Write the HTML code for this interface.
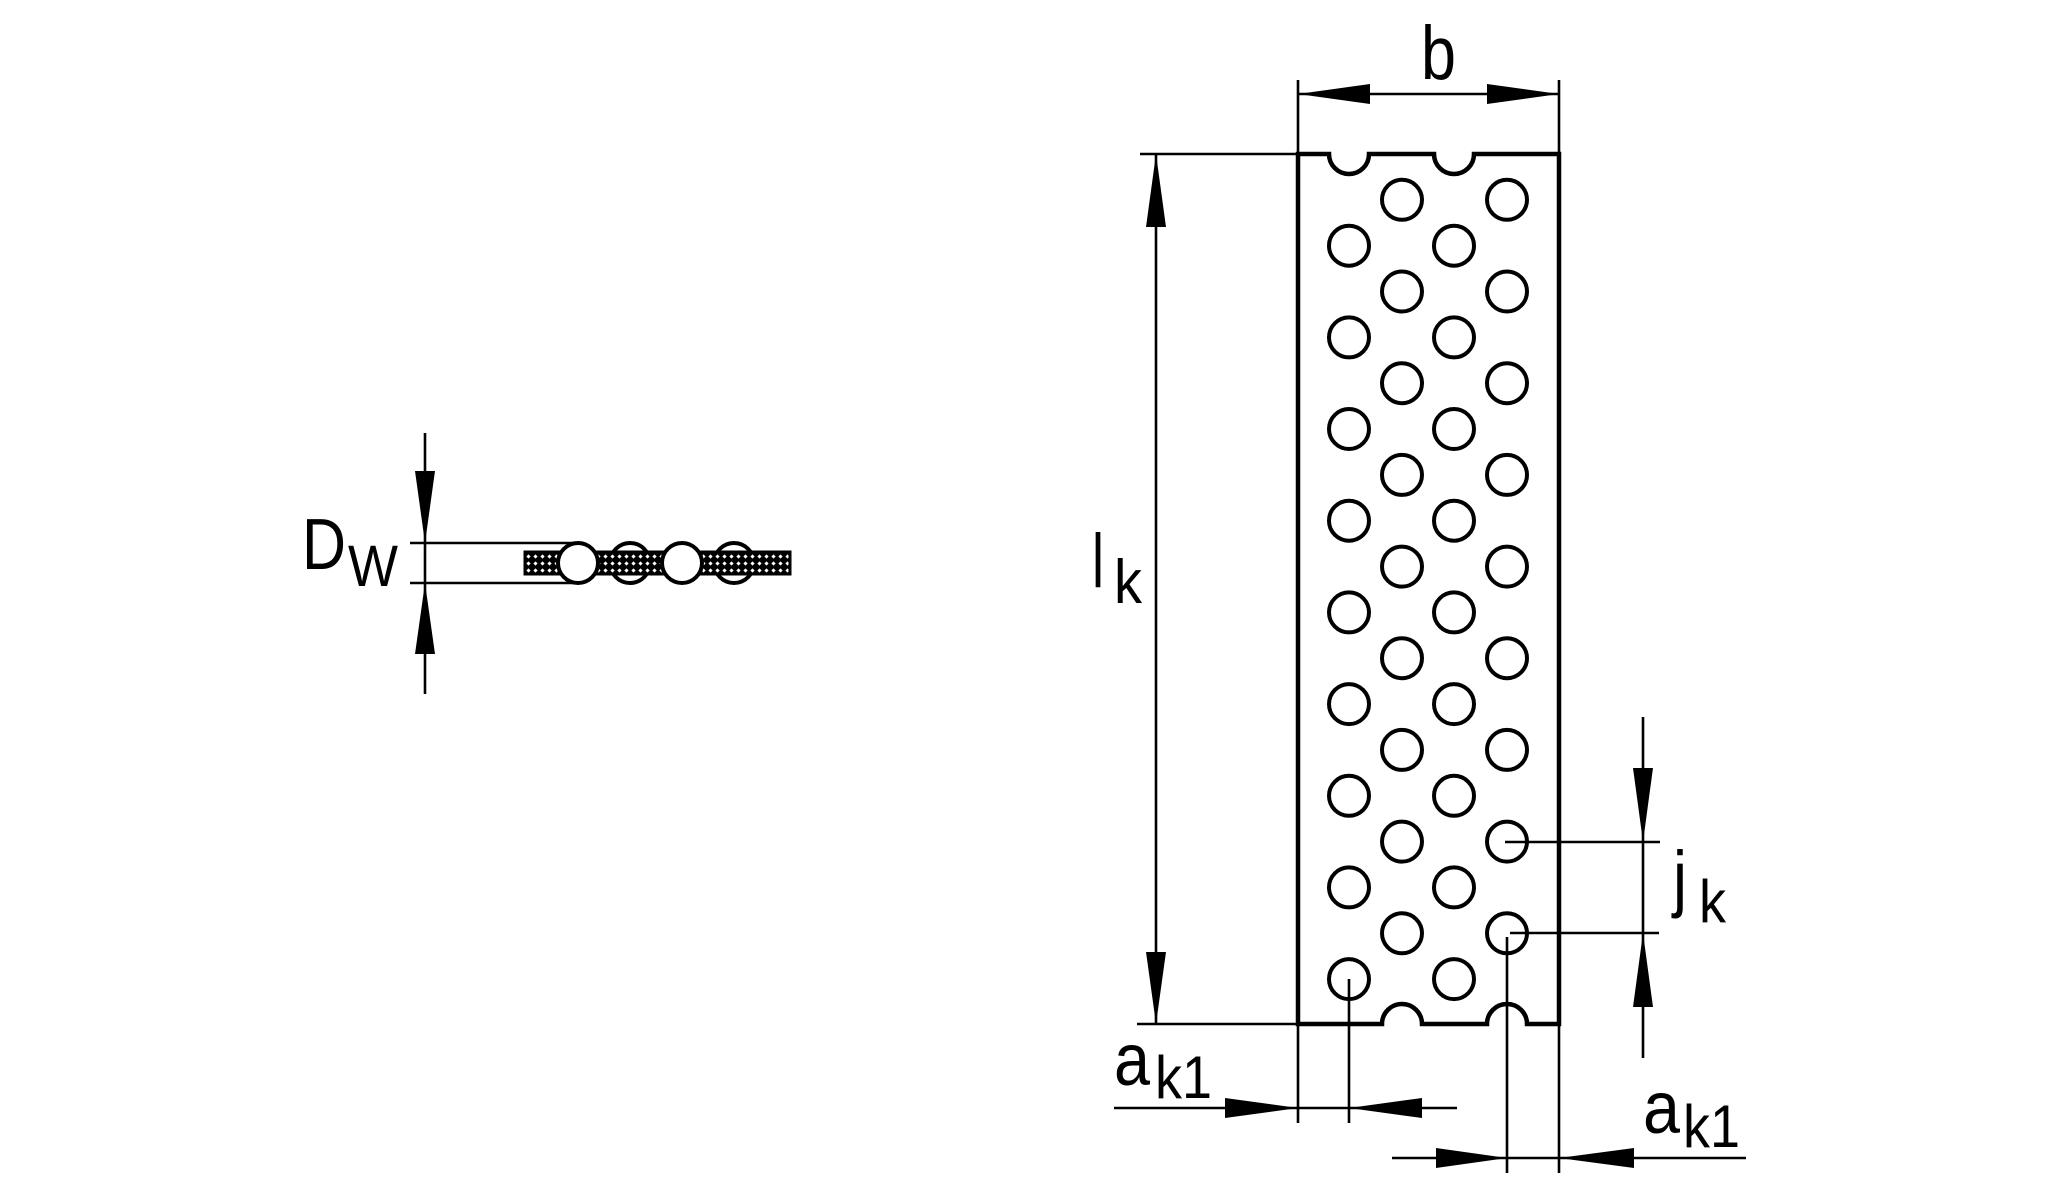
<!DOCTYPE html>
<html><head><meta charset="utf-8"><style>
html,body{margin:0;padding:0;background:#fff}
svg{display:block}
text{font-family:"Liberation Sans",sans-serif;fill:#000}
</style></head><body>
<svg width="2070" height="1200" viewBox="0 0 2070 1200" xmlns="http://www.w3.org/2000/svg">
<defs>
<pattern id="hatch" width="7" height="7" patternUnits="userSpaceOnUse">
<rect width="7" height="7" fill="#000"/>
<rect x="2" y="2" width="3" height="3" fill="#fff" transform="rotate(45 3.5 3.5)"/>
</pattern>
</defs>
<g stroke="#000" fill="none">
<circle cx="630" cy="563" r="20" stroke-width="4" fill="#fff"/>
<circle cx="734" cy="563" r="20" stroke-width="4" fill="#fff"/>
<rect x="525" y="552" width="265" height="22" fill="url(#hatch)" stroke-width="3"/>
<circle cx="578" cy="563" r="20" stroke-width="4" fill="#fff"/>
<circle cx="682" cy="563" r="20" stroke-width="4" fill="#fff"/>
<line x1="410" y1="543" x2="578" y2="543" stroke-width="2.6"/>
<line x1="410" y1="583" x2="578" y2="583" stroke-width="2.6"/>
<line x1="425" y1="433" x2="425" y2="694" stroke-width="2.6"/>
<path d="M1298,154 H1329 A20,20 0 0 0 1369,154 H1434 A20,20 0 0 0 1474,154 H1559 V1024 H1527 A20,20 0 0 0 1487,1024 H1422 A20,20 0 0 0 1382,1024 H1298 Z" stroke-width="4.5"/>
<g stroke-width="4">
<circle cx="1349" cy="245.7" r="20"/><circle cx="1349" cy="337.4" r="20"/><circle cx="1349" cy="429" r="20"/><circle cx="1349" cy="520.7" r="20"/><circle cx="1349" cy="612.4" r="20"/><circle cx="1349" cy="704.1" r="20"/><circle cx="1349" cy="795.8" r="20"/><circle cx="1349" cy="887.4" r="20"/><circle cx="1349" cy="979.1" r="20"/>
<circle cx="1454" cy="245.7" r="20"/><circle cx="1454" cy="337.4" r="20"/><circle cx="1454" cy="429" r="20"/><circle cx="1454" cy="520.7" r="20"/><circle cx="1454" cy="612.4" r="20"/><circle cx="1454" cy="704.1" r="20"/><circle cx="1454" cy="795.8" r="20"/><circle cx="1454" cy="887.4" r="20"/><circle cx="1454" cy="979.1" r="20"/>
<circle cx="1402" cy="199.8" r="20"/><circle cx="1402" cy="291.5" r="20"/><circle cx="1402" cy="383.2" r="20"/><circle cx="1402" cy="474.9" r="20"/><circle cx="1402" cy="566.6" r="20"/><circle cx="1402" cy="658.2" r="20"/><circle cx="1402" cy="749.9" r="20"/><circle cx="1402" cy="841.6" r="20"/><circle cx="1402" cy="933.3" r="20"/>
<circle cx="1507" cy="199.8" r="20"/><circle cx="1507" cy="291.5" r="20"/><circle cx="1507" cy="383.2" r="20"/><circle cx="1507" cy="474.9" r="20"/><circle cx="1507" cy="566.6" r="20"/><circle cx="1507" cy="658.2" r="20"/><circle cx="1507" cy="749.9" r="20"/><circle cx="1507" cy="841.6" r="20"/><circle cx="1507" cy="933.3" r="20"/>
</g>
<g stroke-width="2.6">
<line x1="1298" y1="80" x2="1298" y2="154"/>
<line x1="1559" y1="80" x2="1559" y2="154"/>
<line x1="1298" y1="94" x2="1559" y2="94"/>
<line x1="1140" y1="154" x2="1298" y2="154"/>
<line x1="1137" y1="1024" x2="1298" y2="1024"/>
<line x1="1156" y1="154" x2="1156" y2="1024"/>
<line x1="1298" y1="1024" x2="1298" y2="1123"/>
<line x1="1349" y1="979" x2="1349" y2="1123"/>
<line x1="1114" y1="1108" x2="1457" y2="1108"/>
<line x1="1507" y1="937" x2="1507" y2="1173"/>
<line x1="1559" y1="1024" x2="1559" y2="1173"/>
<line x1="1392" y1="1158" x2="1746" y2="1158"/>
<line x1="1505" y1="842" x2="1660" y2="842"/>
<line x1="1510" y1="933" x2="1659" y2="933"/>
<line x1="1643" y1="717" x2="1643" y2="1058"/>
</g>
</g>
<g fill="#000">
<polygon points="425,543 415,471 435,471"/>
<polygon points="425,583 415,654 435,654"/>
<polygon points="1298,94 1370,84 1370,104"/>
<polygon points="1559,94 1487,84 1487,104"/>
<polygon points="1156,154 1146,227 1166,227"/>
<polygon points="1156,1024 1146,952 1166,952"/>
<polygon points="1298,1108 1225,1098 1225,1118"/>
<polygon points="1349,1108 1422,1098 1422,1118"/>
<polygon points="1507,1158 1436,1148 1436,1168"/>
<polygon points="1559,1158 1634,1148 1634,1168"/>
<polygon points="1643,842 1633,768 1653,768"/>
<polygon points="1643,933 1633,1007 1653,1007"/>
</g>
<text x="302" y="569" font-size="72" textLength="44" lengthAdjust="spacingAndGlyphs">D</text>
<text x="348" y="586" font-size="58" textLength="50" lengthAdjust="spacingAndGlyphs">W</text>
<text x="1421" y="79" font-size="76" textLength="35" lengthAdjust="spacingAndGlyphs">b</text>
<text x="1092" y="587" font-size="76" textLength="12" lengthAdjust="spacingAndGlyphs">l</text>
<text x="1114" y="603" font-size="62" textLength="28" lengthAdjust="spacingAndGlyphs">k</text>
<text x="1114" y="1085" font-size="74" textLength="36" lengthAdjust="spacingAndGlyphs">a</text>
<text x="1155" y="1098" font-size="60" textLength="57" lengthAdjust="spacingAndGlyphs">k1</text>
<text x="1643" y="1133" font-size="74" textLength="37" lengthAdjust="spacingAndGlyphs">a</text>
<text x="1683" y="1147" font-size="60" textLength="57" lengthAdjust="spacingAndGlyphs">k1</text>
<text x="1673" y="903" font-size="74" textLength="14" lengthAdjust="spacingAndGlyphs">j</text>
<text x="1699" y="922" font-size="60" textLength="27" lengthAdjust="spacingAndGlyphs">k</text>
</svg>
</body></html>
